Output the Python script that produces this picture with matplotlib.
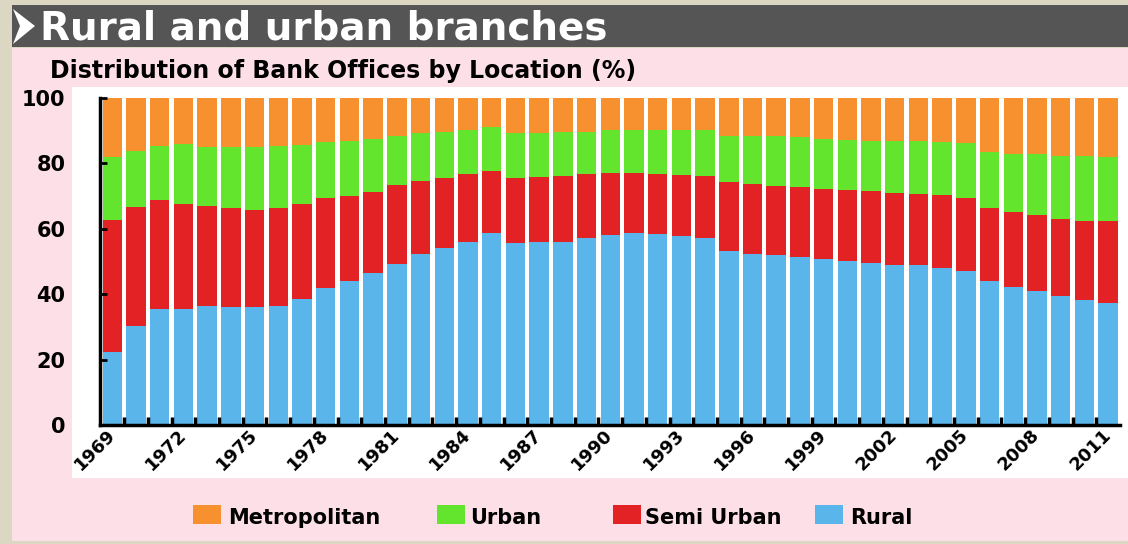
import matplotlib
matplotlib.use("Agg")
import matplotlib.pyplot as plt
from matplotlib.patches import Rectangle, Polygon
import numpy as np

# share of bank offices by population group, % of total
years = list(range(1969, 2012))
rural = [22.2, 30.4, 35.5, 35.5, 36.3, 36.2, 36.2, 36.4, 38.5, 41.8,
         44.1, 46.6, 49.3, 52.2, 54.0, 56.1, 58.7, 55.8, 56.1, 56.1,
         57.3, 58.2, 58.7, 58.4, 57.9, 57.3, 53.1, 52.3, 52.0, 51.5,
         50.7, 50.2, 49.5, 49.0, 49.0, 48.0, 47.1, 44.1, 42.3, 41.1,
         39.3, 38.1, 37.2]
semi_urban = [40.4, 36.4, 33.4, 32.2, 30.8, 30.1, 29.6, 29.9, 29.1, 27.6,
              26.0, 24.8, 24.0, 22.3, 21.5, 20.6, 18.9, 19.7, 19.7, 20.1,
              19.4, 18.8, 18.3, 18.3, 18.6, 18.9, 21.1, 21.4, 21.2, 21.3,
              21.6, 21.7, 22.1, 22.1, 21.7, 22.2, 22.3, 22.2, 22.8, 23.2,
              23.7, 24.3, 25.2]
urban = [19.5, 17.1, 16.5, 18.3, 17.8, 18.6, 19.1, 18.9, 18.1, 17.1,
         16.9, 16.0, 15.0, 14.8, 14.0, 13.4, 13.4, 13.8, 13.5, 13.3,
         12.8, 13.3, 13.3, 13.6, 13.8, 14.1, 14.3, 14.8, 15.1, 15.2,
         15.1, 15.3, 15.4, 15.8, 16.3, 16.3, 16.8, 17.1, 17.9, 18.7,
         19.3, 19.9, 19.7]
metropolitan = [17.9, 16.1, 14.6, 14.0, 15.1, 15.1, 15.1, 14.8, 14.3, 13.5,
                13.0, 12.6, 11.7, 10.7, 10.5, 9.9, 9.0, 10.7, 10.7, 10.5,
                10.5, 9.7, 9.7, 9.7, 9.7, 9.7, 11.5, 11.5, 11.7, 12.0,
                12.6, 12.8, 13.0, 13.1, 13.0, 13.5, 13.8, 16.6, 17.0, 17.0,
                17.7, 17.7, 17.9]
year_ticks = years[::3]

labels = ["Rural", "Semi Urban", "Urban", "Metropolitan"]
colors = ["#5ab5ea", "#e32226", "#63e52e", "#f7912f"]
legend_order = ["Metropolitan", "Urban", "Semi Urban", "Rural"]

W, H = 1128, 544
plt.rcParams["font.family"] = "DejaVu Sans"
plt.rcParams["font.weight"] = "bold"


def fx(x):
    return x / W


def fy(y):
    return 1 - y / H


fig = plt.figure(figsize=(W / 100, H / 100), dpi=100)
fig.patch.set_facecolor("#dbd7c3")

# panel backgrounds
fig.patches.append(Rectangle((fx(12), fy(541)), 1 - fx(12), fy(48) - fy(541),
                             transform=fig.transFigure, facecolor="#fddfe8",
                             edgecolor="none", zorder=-10))
fig.patches.append(Rectangle((fx(12), fy(47)), 1 - fx(12), fy(5) - fy(47),
                             transform=fig.transFigure, facecolor="#555555",
                             edgecolor="none", zorder=-10))
fig.patches.append(Rectangle((fx(72), fy(478)), 1 - fx(72), fy(87) - fy(478),
                             transform=fig.transFigure, facecolor="white",
                             edgecolor="none", zorder=-10))
fig.patches.append(Polygon([(fx(13), fy(9)), (fx(35), fy(26)), (fx(13), fy(44)),
                            (fx(20), fy(26))], closed=True,
                           transform=fig.transFigure, facecolor="white",
                           edgecolor="none", zorder=-9))

fig.text(fx(40), fy(40), "Rural and urban branches", color="white",
         fontsize=28, va="baseline")
fig.text(fx(50), fy(78), "Distribution of Bank Offices by Location (%)",
         fontsize=17, va="baseline")

ax = fig.add_axes([fx(100), fy(425), fx(1120) - fx(100), fy(98) - fy(425)])
ax.set_facecolor("white")

x = np.arange(len(years))
bottom = np.zeros(len(years))
for name, vals, c in zip(labels, [rural, semi_urban, urban, metropolitan], colors):
    ax.bar(x, vals, width=0.82, bottom=bottom, color=c, edgecolor="none")
    bottom += np.array(vals)

ax.set_xlim(-0.52, 42.5)
ax.set_ylim(0, 100)
for s in ["top", "right"]:
    ax.spines[s].set_visible(False)
for s in ["left", "bottom"]:
    ax.spines[s].set_linewidth(2.5)

ax.tick_params(axis="y", direction="in", length=5, width=2, pad=25, labelsize=15)
ax.tick_params(axis="x", which="major", length=0, pad=5)
ax.tick_params(axis="x", which="minor", direction="in", length=6, width=2.5)

ax.set_yticks([0, 20, 40, 60, 80, 100])

# bar separators as inward minor ticks; slanted year labels every third bar
ax.set_xticks(x[:-1] + 0.5, minor=True)
ax.set_xticks([years.index(y) for y in year_ticks])
ax.set_xticklabels([str(y) for y in year_ticks])
for t in ax.get_xticklabels():
    t.set_fontsize(13)
    t.set_rotation(45)
    t.set_ha("right")
    t.set_va("center")
    t.set_rotation_mode("anchor")

# legend row
legend_pos = {"Metropolitan": (193, 228), "Urban": (437, 470),
              "Semi Urban": (613, 645), "Rural": (815, 850)}
for name in legend_order:
    px, tx = legend_pos[name]
    c = colors[labels.index(name)]
    fig.patches.append(Rectangle((fx(px), fy(524)), fx(28), fy(505) - fy(524),
                                 transform=fig.transFigure, facecolor=c,
                                 edgecolor="none"))
    fig.text(fx(tx), fy(524), name, fontsize=15, va="baseline")

fig.savefig("out.png", dpi=100, facecolor=fig.get_facecolor())
